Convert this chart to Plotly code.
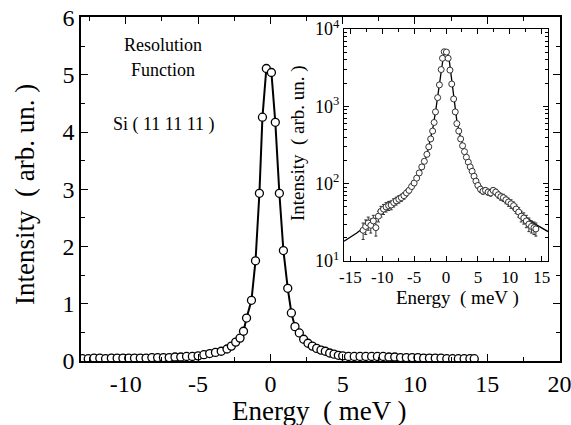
import plotly.graph_objects as go

# ---- data ----
energy = [-13.0, -12.6, -12.2, -11.8, -11.4, -11.0, -10.6, -10.2, -9.8, -9.4,
          -9.0, -8.6, -8.2, -7.8, -7.4, -7.0, -6.6, -6.2, -5.8, -5.4,
          -5.0, -4.6, -4.2, -3.8, -3.4, -3.0, -2.7, -2.4, -2.1, -1.86,
          -1.65, -1.31, -1.03, -0.76, -0.55, -0.28, 0.07, 0.34, 0.62, 0.90,
          1.20, 1.45, 1.70, 2.0, 2.3, 2.6, 2.9, 3.2, 3.5, 3.8,
          4.1, 4.4, 4.7, 5.0, 5.4, 5.8, 6.2, 6.6, 7.0, 7.4,
          7.8, 8.2, 8.6, 9.0, 9.4, 9.8, 10.2, 10.6, 11.0, 11.4,
          11.8, 12.2, 12.6, 13.0, 13.4, 13.8, 14.1]

intensity_main = [0.04, 0.04, 0.05, 0.05, 0.04, 0.05, 0.05, 0.05, 0.05, 0.05,
                  0.05, 0.05, 0.06, 0.06, 0.06, 0.06, 0.07, 0.07, 0.08, 0.08,
                  0.09, 0.11, 0.13, 0.15, 0.17, 0.21, 0.26, 0.33, 0.40, 0.52,
                  0.75, 1.06, 1.75, 2.93, 4.26, 5.11, 5.04, 4.17, 2.93, 1.93,
                  1.27, 0.84, 0.60, 0.49, 0.38, 0.31, 0.26, 0.22, 0.19, 0.17,
                  0.14, 0.12, 0.10, 0.09, 0.08, 0.08, 0.08, 0.08, 0.08, 0.08,
                  0.08, 0.07, 0.07, 0.06, 0.06, 0.06, 0.06, 0.05, 0.05, 0.05,
                  0.05, 0.04, 0.04, 0.04, 0.04, 0.04, 0.04]

intensity_inset = [25, 28, 31, 29, 33, 27, 38, 44, 47, 50,
                   52, 53, 57, 60, 63, 66, 70, 76, 82, 92,
                   102, 118, 138, 165, 195, 240, 300, 380, 480, 620,
                   850, 1300, 1900, 3000, 4200, 5100, 5050, 4200, 2950, 1950,
                   1250, 850, 600, 480, 380, 310, 260, 220, 190, 165,
                   145, 125, 108, 95, 85, 80, 82, 78, 76, 82,
                   78, 72, 68, 66, 62, 58, 55, 52, 47, 43,
                   38, 36, 33, 30, 28, 27, 26]

error_inset = [6, 6, 6, 6, 6, 6, 6, 7, 7, 7,
               7, 7, 7, 7, 7, 7, 7, 7, 7, 8,
               8, 8, 9, 10, 11, 12, 14, 16, 18, 20,
               25, 30, 40, 50, 60, 70, 70, 60, 50, 40,
               30, 25, 20, 18, 16, 14, 12, 11, 10, 10,
               9, 9, 8, 8, 8, 7, 7, 7, 7, 7,
               7, 7, 7, 7, 7, 7, 7, 6, 6, 6,
               6, 6, 6, 6, 5, 5, 5]

fit_energy = [-16, -14, -12, -10, -8, -6, -5, -4, -3, -2.4, -2.0, -1.6, -1.2, -0.8,
              -0.4, -0.1, 0.2, 0.5, 0.9, 1.3, 1.7, 2.2, 3, 4, 5, 6, 8, 10, 12, 14, 16]
fit_inset = [18, 23, 31, 42, 57, 78, 100, 140, 235, 380, 560, 900, 1500, 2800,
             4500, 5300, 5100, 4000, 2200, 1200, 650, 420, 250, 150, 100, 84, 74,
             56, 40, 30, 24]

main_xticks = [-10, -5, 0, 5, 10, 15, 20]
main_xticktext = ["-10", "-5", "0", "5", "10", "15", "20"]
main_yticks = [0, 1, 2, 3, 4, 5, 6]
inset_xticks = [-15, -10, -5, 0, 5, 10, 15]
inset_xticktext = ["-15", "-10", "-5", "0", "5", "10", "15"]
inset_yticks = [10, 100, 1000, 10000]
inset_yticktext = ["10<sup>1</sup>", "10<sup>2</sup>", "10<sup>3</sup>", "10<sup>4</sup>"]

FONT = "Liberation Serif"
W, H = 571, 425

fig = go.Figure()

fig.add_trace(go.Scatter(
    x=energy, y=intensity_main, mode="lines+markers",
    line=dict(color="black", width=2),
    marker=dict(symbol="circle", size=8, color="white",
                line=dict(color="black", width=1.3)),
    xaxis="x", yaxis="y", showlegend=False))

fig.add_trace(go.Scatter(
    x=fit_energy, y=fit_inset, mode="lines",
    line=dict(color="black", width=1.3),
    xaxis="x2", yaxis="y2", showlegend=False))

fig.add_trace(go.Scatter(
    x=energy, y=intensity_inset, mode="markers",
    marker=dict(symbol="circle", size=6, color="white",
                line=dict(color="#333", width=1)),
    error_y=dict(type="data", array=error_inset, color="#333",
                 thickness=1, width=1.5),
    xaxis="x2", yaxis="y2", showlegend=False))


def ax(**kw):
    base = dict(showgrid=False, zeroline=False, showline=True, automargin=False,
                linecolor="black", mirror="ticks", ticks="inside",
                tickcolor="black", tickangle=0, ticklabeloverflow="allow")
    base.update(kw)
    return base


fig.update_layout(
    template="none",
    width=W, height=H,
    margin=dict(l=0, r=0, t=0, b=0, pad=0),
    paper_bgcolor="white", plot_bgcolor="white",
    xaxis=ax(domain=[81 / W, 560 / W], range=[-13.1, 20.03], linewidth=1.5,
             tickmode="array", tickvals=main_xticks, ticktext=main_xticktext,
             ticklen=7, tickwidth=1.2,
             tickfont=dict(family=FONT, size=24, color="black"),
             minor=dict(ticks="inside", dtick=2.5, tick0=0, ticklen=4, tickcolor="black"),
             anchor="y"),
    yaxis=ax(domain=[(H - 361) / H, (H - 17) / H], range=[0, 6.01], linewidth=1.5,
             tickmode="array", tickvals=main_yticks,
             ticklen=7, tickwidth=1.2,
             tickfont=dict(family=FONT, size=24, color="black"),
             minor=dict(ticks="inside", dtick=0.5, tick0=0, ticklen=4, tickcolor="black"),
             anchor="x"),
    xaxis2=ax(domain=[344 / W, 548 / W], range=[-16, 16], linewidth=1.3,
              tickmode="array", tickvals=inset_xticks, ticktext=inset_xticktext,
              ticklen=5, tickfont=dict(family=FONT, size=17, color="black"),
              minor=dict(ticks="inside", dtick=2.5, tick0=0, ticklen=3, tickcolor="black"),
              anchor="y2"),
    yaxis2=ax(domain=[(H - 261) / H, (H - 29) / H], type="log", range=[1, 4.002],
              linewidth=1.3, tickmode="array", tickvals=inset_yticks,
              ticktext=inset_yticktext, ticklen=5,
              tickfont=dict(family=FONT, size=18, color="black"),
              minor=dict(ticks="inside", ticklen=3, tickcolor="black",
                         tickmode="array",
                         tickvals=[20, 30, 40, 50, 60, 70, 80, 90,
                                   200, 300, 400, 500, 600, 700, 800, 900,
                                   2000, 3000, 4000, 5000, 6000, 7000, 8000, 9000]),
              anchor="x2"),
)

ann = [
    ("Energy  ( meV )", 319, 411, 27, 0),
    ("Intensity  ( arb. un. )", 25, 195, 27, -90),
    ("Energy  ( meV )", 457, 298, 19, 0),
    ("Intensity  ( arb. un. )", 298, 143, 19, -90),
    ("Resolution", 163, 45, 18, 0),
    ("Function", 163, 70, 18, 0),
    ("Si ( 11 11 11 )", 164, 125, 18, 0),
]
for text, px, py, size, ang in ann:
    fig.add_annotation(text=text, x=px / W, y=(H - py) / H, xref="paper", yref="paper",
                       xanchor="center", yanchor="middle", textangle=ang,
                       showarrow=False, font=dict(family=FONT, size=size, color="black"))

fig.write_html("out.html",
               config={"displayModeBar": False},
               post_script="document.body.style.margin='0px';"
                           "document.body.style.overflow='hidden';")
